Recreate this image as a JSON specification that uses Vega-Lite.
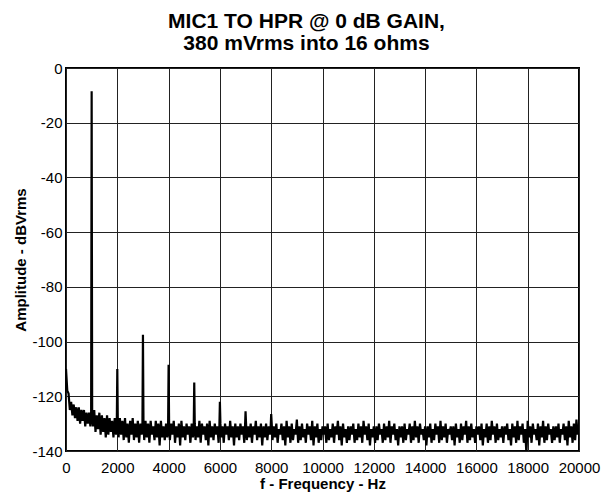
{
  "$schema": "https://vega.github.io/schema/vega-lite/v6.json",
  "autosize": {"type": "none"},
  "width": 513,
  "height": 383,
  "padding": {"left": 66, "top": 68, "right": 33, "bottom": 44},
  "background": "white",
  "title": {
    "text": ["MIC1 TO HPR @ 0 dB GAIN,", "380 mVrms into 16 ohms"],
    "font": "Liberation Sans",
    "fontSize": 21,
    "fontWeight": "bold",
    "color": "black",
    "lineHeight": 22,
    "anchor": "middle",
    "frame": "group",
    "dx": -16,
    "offset": 7
  },
  "config": {
    "view": {"stroke": "black", "strokeWidth": 2},
    "axis": {
      "labelFont": "Liberation Sans",
      "labelFontSize": 15,
      "labelColor": "black",
      "titleFont": "Liberation Sans",
      "titleFontSize": 15,
      "titleFontWeight": "bold",
      "titleColor": "black",
      "domain": false,
      "ticks": false,
      "grid": true,
      "gridColor": "#222",
      "gridWidth": 1,
      "gridOpacity": 1,
      "labelExpr": "'' + datum.value"
    }
  },
  "data": {
    "values": [
      {"f": 0, "db": -110}, {"f": 50, "db": -118}, {"f": 100, "db": -119}, {"f": 150, "db": -125},
      {"f": 200, "db": -122}, {"f": 250, "db": -127}, {"f": 300, "db": -123}, {"f": 350, "db": -128},
      {"f": 400, "db": -124}, {"f": 450, "db": -129}, {"f": 500, "db": -124}, {"f": 550, "db": -130},
      {"f": 600, "db": -125}, {"f": 650, "db": -129}, {"f": 700, "db": -125}, {"f": 750, "db": -131},
      {"f": 800, "db": -126}, {"f": 850, "db": -130}, {"f": 900, "db": -126}, {"f": 950, "db": -131},
      {"f": 980, "db": -127}, {"f": 1000, "db": -8.5}, {"f": 1020, "db": -126},
      {"f": 1050, "db": -131}, {"f": 1100, "db": -125}, {"f": 1150, "db": -133}, {"f": 1200, "db": -127},
      {"f": 1250, "db": -132}, {"f": 1300, "db": -126}, {"f": 1350, "db": -134}, {"f": 1400, "db": -127},
      {"f": 1450, "db": -133}, {"f": 1500, "db": -128}, {"f": 1550, "db": -135}, {"f": 1600, "db": -127},
      {"f": 1650, "db": -134}, {"f": 1700, "db": -128}, {"f": 1750, "db": -133}, {"f": 1800, "db": -129},
      {"f": 1850, "db": -135}, {"f": 1900, "db": -128}, {"f": 1950, "db": -134},
      {"f": 1980, "db": -130}, {"f": 2000, "db": -110}, {"f": 2020, "db": -129},
      {"f": 2050, "db": -135}, {"f": 2100, "db": -128}, {"f": 2150, "db": -134}, {"f": 2200, "db": -129},
      {"f": 2250, "db": -136}, {"f": 2300, "db": -128}, {"f": 2350, "db": -135}, {"f": 2400, "db": -130},
      {"f": 2450, "db": -137}, {"f": 2500, "db": -129}, {"f": 2550, "db": -134}, {"f": 2600, "db": -128},
      {"f": 2650, "db": -136}, {"f": 2700, "db": -130}, {"f": 2750, "db": -135}, {"f": 2800, "db": -129},
      {"f": 2850, "db": -137}, {"f": 2900, "db": -130}, {"f": 2950, "db": -134},
      {"f": 2980, "db": -130}, {"f": 3000, "db": -97.5}, {"f": 3020, "db": -129},
      {"f": 3050, "db": -136}, {"f": 3100, "db": -129}, {"f": 3150, "db": -135}, {"f": 3200, "db": -130},
      {"f": 3250, "db": -137}, {"f": 3300, "db": -129}, {"f": 3350, "db": -134}, {"f": 3400, "db": -131},
      {"f": 3450, "db": -136}, {"f": 3500, "db": -129}, {"f": 3550, "db": -135}, {"f": 3600, "db": -130},
      {"f": 3650, "db": -138}, {"f": 3700, "db": -129}, {"f": 3750, "db": -135}, {"f": 3800, "db": -131},
      {"f": 3850, "db": -136}, {"f": 3900, "db": -130}, {"f": 3950, "db": -135},
      {"f": 3980, "db": -131}, {"f": 4000, "db": -108.5}, {"f": 4020, "db": -130},
      {"f": 4050, "db": -136}, {"f": 4100, "db": -130}, {"f": 4150, "db": -134}, {"f": 4200, "db": -129},
      {"f": 4250, "db": -137}, {"f": 4300, "db": -131}, {"f": 4350, "db": -135}, {"f": 4400, "db": -130},
      {"f": 4450, "db": -138}, {"f": 4500, "db": -129}, {"f": 4550, "db": -135}, {"f": 4600, "db": -131},
      {"f": 4650, "db": -136}, {"f": 4700, "db": -130}, {"f": 4750, "db": -134}, {"f": 4800, "db": -131},
      {"f": 4850, "db": -137}, {"f": 4900, "db": -130}, {"f": 4950, "db": -135},
      {"f": 4980, "db": -131}, {"f": 5000, "db": -115}, {"f": 5020, "db": -130},
      {"f": 5050, "db": -136}, {"f": 5100, "db": -131}, {"f": 5150, "db": -135}, {"f": 5200, "db": -129},
      {"f": 5250, "db": -137}, {"f": 5300, "db": -130}, {"f": 5350, "db": -134}, {"f": 5400, "db": -131},
      {"f": 5450, "db": -136}, {"f": 5500, "db": -130}, {"f": 5550, "db": -138}, {"f": 5600, "db": -129},
      {"f": 5650, "db": -135}, {"f": 5700, "db": -131}, {"f": 5750, "db": -136}, {"f": 5800, "db": -130},
      {"f": 5850, "db": -134}, {"f": 5900, "db": -131}, {"f": 5950, "db": -137},
      {"f": 5980, "db": -131}, {"f": 6000, "db": -122}, {"f": 6020, "db": -130},
      {"f": 6050, "db": -135}, {"f": 6100, "db": -131}, {"f": 6150, "db": -137}, {"f": 6200, "db": -130},
      {"f": 6250, "db": -134}, {"f": 6300, "db": -131}, {"f": 6350, "db": -136}, {"f": 6400, "db": -129},
      {"f": 6450, "db": -135}, {"f": 6500, "db": -131}, {"f": 6550, "db": -138}, {"f": 6600, "db": -130},
      {"f": 6650, "db": -135}, {"f": 6700, "db": -131}, {"f": 6750, "db": -136}, {"f": 6800, "db": -130},
      {"f": 6850, "db": -134}, {"f": 6900, "db": -131}, {"f": 6950, "db": -137},
      {"f": 6980, "db": -131}, {"f": 7000, "db": -125.5}, {"f": 7020, "db": -130},
      {"f": 7050, "db": -136}, {"f": 7100, "db": -131}, {"f": 7150, "db": -135}, {"f": 7200, "db": -130},
      {"f": 7250, "db": -137}, {"f": 7300, "db": -131}, {"f": 7350, "db": -134}, {"f": 7400, "db": -129},
      {"f": 7450, "db": -136}, {"f": 7500, "db": -131}, {"f": 7550, "db": -135}, {"f": 7600, "db": -130},
      {"f": 7650, "db": -138}, {"f": 7700, "db": -131}, {"f": 7750, "db": -135}, {"f": 7800, "db": -130},
      {"f": 7850, "db": -136}, {"f": 7900, "db": -131}, {"f": 7950, "db": -134},
      {"f": 7980, "db": -131}, {"f": 8000, "db": -126.5}, {"f": 8020, "db": -130},
      {"f": 8050, "db": -136}, {"f": 8100, "db": -131}, {"f": 8150, "db": -135}, {"f": 8200, "db": -130},
      {"f": 8250, "db": -137}, {"f": 8300, "db": -132}, {"f": 8350, "db": -134}, {"f": 8400, "db": -130},
      {"f": 8450, "db": -136}, {"f": 8500, "db": -131}, {"f": 8550, "db": -138}, {"f": 8600, "db": -129},
      {"f": 8650, "db": -135}, {"f": 8700, "db": -131}, {"f": 8750, "db": -137}, {"f": 8800, "db": -130},
      {"f": 8850, "db": -136}, {"f": 8900, "db": -132}, {"f": 8950, "db": -134}, {"f": 9000, "db": -128.5},
      {"f": 9050, "db": -137}, {"f": 9100, "db": -131}, {"f": 9150, "db": -136}, {"f": 9200, "db": -130},
      {"f": 9250, "db": -135}, {"f": 9300, "db": -132}, {"f": 9350, "db": -137}, {"f": 9400, "db": -130},
      {"f": 9450, "db": -134}, {"f": 9500, "db": -131}, {"f": 9550, "db": -136}, {"f": 9600, "db": -129},
      {"f": 9650, "db": -138}, {"f": 9700, "db": -131}, {"f": 9750, "db": -135}, {"f": 9800, "db": -130},
      {"f": 9850, "db": -137}, {"f": 9900, "db": -132}, {"f": 9950, "db": -136}, {"f": 10000, "db": -131},
      {"f": 10050, "db": -134}, {"f": 10100, "db": -131}, {"f": 10150, "db": -137}, {"f": 10200, "db": -130},
      {"f": 10250, "db": -136}, {"f": 10300, "db": -132}, {"f": 10350, "db": -135}, {"f": 10400, "db": -130},
      {"f": 10450, "db": -137}, {"f": 10500, "db": -131}, {"f": 10550, "db": -134}, {"f": 10600, "db": -129},
      {"f": 10650, "db": -136}, {"f": 10700, "db": -131}, {"f": 10750, "db": -138}, {"f": 10800, "db": -130},
      {"f": 10850, "db": -135}, {"f": 10900, "db": -132}, {"f": 10950, "db": -137}, {"f": 11000, "db": -131},
      {"f": 11050, "db": -136}, {"f": 11100, "db": -131}, {"f": 11150, "db": -134}, {"f": 11200, "db": -130},
      {"f": 11250, "db": -137}, {"f": 11300, "db": -132}, {"f": 11350, "db": -136}, {"f": 11400, "db": -130},
      {"f": 11450, "db": -135}, {"f": 11500, "db": -131}, {"f": 11550, "db": -137}, {"f": 11600, "db": -129},
      {"f": 11650, "db": -134}, {"f": 11700, "db": -131}, {"f": 11750, "db": -136}, {"f": 11800, "db": -130},
      {"f": 11850, "db": -138}, {"f": 11900, "db": -132}, {"f": 11950, "db": -135}, {"f": 12000, "db": -131},
      {"f": 12050, "db": -137}, {"f": 12100, "db": -131}, {"f": 12150, "db": -136}, {"f": 12200, "db": -130},
      {"f": 12250, "db": -134}, {"f": 12300, "db": -132}, {"f": 12350, "db": -137}, {"f": 12400, "db": -130},
      {"f": 12450, "db": -136}, {"f": 12500, "db": -131}, {"f": 12550, "db": -135}, {"f": 12600, "db": -129},
      {"f": 12650, "db": -137}, {"f": 12700, "db": -131}, {"f": 12750, "db": -134}, {"f": 12800, "db": -130},
      {"f": 12850, "db": -136}, {"f": 12900, "db": -132}, {"f": 12950, "db": -138}, {"f": 13000, "db": -131},
      {"f": 13050, "db": -135}, {"f": 13100, "db": -131}, {"f": 13150, "db": -137}, {"f": 13200, "db": -130},
      {"f": 13250, "db": -136}, {"f": 13300, "db": -132}, {"f": 13350, "db": -134}, {"f": 13400, "db": -130},
      {"f": 13450, "db": -137}, {"f": 13500, "db": -131}, {"f": 13550, "db": -136}, {"f": 13600, "db": -129},
      {"f": 13650, "db": -135}, {"f": 13700, "db": -131}, {"f": 13750, "db": -137}, {"f": 13800, "db": -130},
      {"f": 13850, "db": -134}, {"f": 13900, "db": -132}, {"f": 13950, "db": -136}, {"f": 14000, "db": -131},
      {"f": 14050, "db": -138}, {"f": 14100, "db": -131}, {"f": 14150, "db": -135}, {"f": 14200, "db": -130},
      {"f": 14250, "db": -137}, {"f": 14300, "db": -132}, {"f": 14350, "db": -136}, {"f": 14400, "db": -130},
      {"f": 14450, "db": -134}, {"f": 14500, "db": -131}, {"f": 14550, "db": -137}, {"f": 14600, "db": -129},
      {"f": 14650, "db": -136}, {"f": 14700, "db": -131}, {"f": 14750, "db": -135}, {"f": 14800, "db": -130},
      {"f": 14850, "db": -137}, {"f": 14900, "db": -132}, {"f": 14950, "db": -134}, {"f": 15000, "db": -131},
      {"f": 15050, "db": -136}, {"f": 15100, "db": -131}, {"f": 15150, "db": -138}, {"f": 15200, "db": -130},
      {"f": 15250, "db": -135}, {"f": 15300, "db": -132}, {"f": 15350, "db": -137}, {"f": 15400, "db": -130},
      {"f": 15450, "db": -136}, {"f": 15500, "db": -131}, {"f": 15550, "db": -134}, {"f": 15600, "db": -129},
      {"f": 15650, "db": -137}, {"f": 15700, "db": -131}, {"f": 15750, "db": -136}, {"f": 15800, "db": -130},
      {"f": 15850, "db": -135}, {"f": 15900, "db": -132}, {"f": 15950, "db": -137}, {"f": 16000, "db": -131},
      {"f": 16050, "db": -134}, {"f": 16100, "db": -131}, {"f": 16150, "db": -136}, {"f": 16200, "db": -130},
      {"f": 16250, "db": -138}, {"f": 16300, "db": -132}, {"f": 16350, "db": -135}, {"f": 16400, "db": -130},
      {"f": 16450, "db": -137}, {"f": 16500, "db": -131}, {"f": 16550, "db": -136}, {"f": 16600, "db": -129},
      {"f": 16650, "db": -134}, {"f": 16700, "db": -131}, {"f": 16750, "db": -137}, {"f": 16800, "db": -130},
      {"f": 16850, "db": -136}, {"f": 16900, "db": -132}, {"f": 16950, "db": -135}, {"f": 17000, "db": -131},
      {"f": 17050, "db": -137}, {"f": 17100, "db": -131}, {"f": 17150, "db": -134}, {"f": 17200, "db": -130},
      {"f": 17250, "db": -136}, {"f": 17300, "db": -132}, {"f": 17350, "db": -138}, {"f": 17400, "db": -130},
      {"f": 17450, "db": -135}, {"f": 17500, "db": -131}, {"f": 17550, "db": -137}, {"f": 17600, "db": -129},
      {"f": 17650, "db": -136}, {"f": 17700, "db": -131}, {"f": 17750, "db": -134}, {"f": 17800, "db": -130},
      {"f": 17850, "db": -137}, {"f": 17900, "db": -132}, {"f": 17950, "db": -141}, {"f": 18000, "db": -129},
      {"f": 18050, "db": -135}, {"f": 18100, "db": -131}, {"f": 18150, "db": -137}, {"f": 18200, "db": -130},
      {"f": 18250, "db": -134}, {"f": 18300, "db": -132}, {"f": 18350, "db": -136}, {"f": 18400, "db": -130},
      {"f": 18450, "db": -138}, {"f": 18500, "db": -131}, {"f": 18550, "db": -135}, {"f": 18600, "db": -129},
      {"f": 18650, "db": -137}, {"f": 18700, "db": -131}, {"f": 18750, "db": -136}, {"f": 18800, "db": -130},
      {"f": 18850, "db": -134}, {"f": 18900, "db": -132}, {"f": 18950, "db": -137}, {"f": 19000, "db": -131},
      {"f": 19050, "db": -136}, {"f": 19100, "db": -131}, {"f": 19150, "db": -135}, {"f": 19200, "db": -130},
      {"f": 19250, "db": -137}, {"f": 19300, "db": -132}, {"f": 19350, "db": -134}, {"f": 19400, "db": -130},
      {"f": 19450, "db": -136}, {"f": 19500, "db": -131}, {"f": 19550, "db": -138}, {"f": 19600, "db": -129},
      {"f": 19650, "db": -135}, {"f": 19700, "db": -131}, {"f": 19750, "db": -137}, {"f": 19800, "db": -130},
      {"f": 19850, "db": -136}, {"f": 19900, "db": -128.5}, {"f": 19950, "db": -134}, {"f": 20000, "db": -131}
    ]
  },
  "mark": {"type": "line", "color": "black", "strokeWidth": 2.2, "clip": true, "interpolate": "linear"},
  "encoding": {
    "x": {
      "field": "f", "type": "quantitative",
      "scale": {"domain": [0, 20000], "nice": false},
      "axis": {"values": [0,2000,4000,6000,8000,10000,12000,14000,16000,18000,20000], "title": "f - Frequency - Hz", "labelPadding": 9, "titlePadding": 1, "labelFlush": false}
    },
    "y": {
      "field": "db", "type": "quantitative",
      "scale": {"domain": [-140, 0], "nice": false},
      "axis": {"values": [0,-20,-40,-60,-80,-100,-120,-140], "title": "Amplitude - dBVrms", "labelPadding": 4, "titlePadding": 3}
    }
  }
}
